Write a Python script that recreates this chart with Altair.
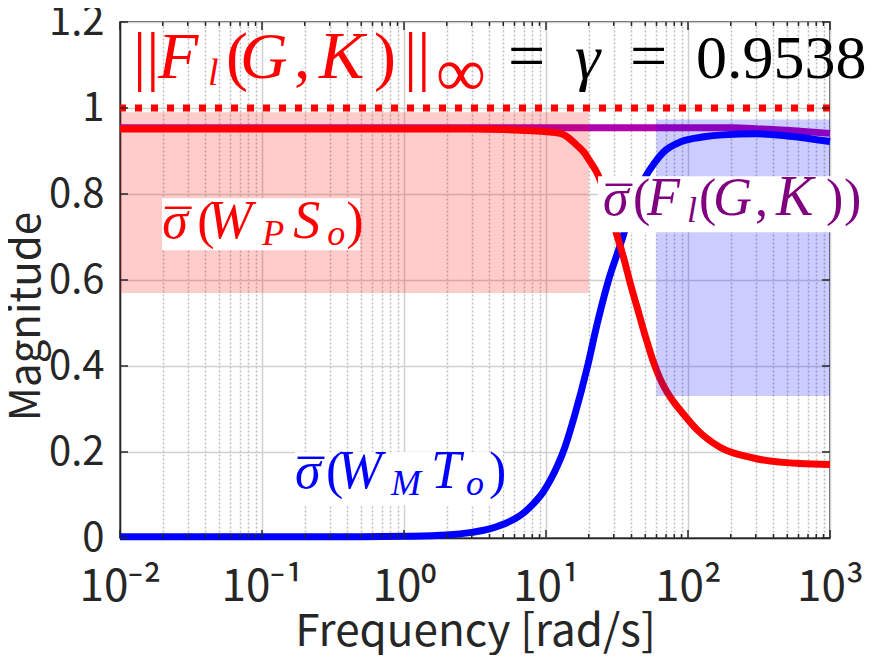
import math
import altair as alt
import pandas as pd

# ---------------- data ----------------
FREQ_WPSO = [0.01, 0.1, 1, 3, 5, 8, 10, 12.6, 14.5, 16.4, 18.5, 20.4, 23.2, 26, 28.5,
             31.5, 36, 39, 43.5, 50, 57, 63.6, 71, 80.7, 90.8, 115.6, 168, 288, 615, 1000]
MAG_WPSO = [0.951, 0.951, 0.951, 0.951, 0.950, 0.947, 0.945, 0.941, 0.930, 0.914, 0.897,
            0.876, 0.845, 0.800, 0.755, 0.706, 0.640, 0.595, 0.540, 0.470, 0.410, 0.370,
            0.340, 0.313, 0.292, 0.252, 0.211, 0.186, 0.173, 0.171]

FREQ_WMTO = [0.01, 0.1, 0.5, 1, 2, 3, 4, 5, 6, 7, 8, 8.6, 9.5, 10.7, 12, 13.6, 16, 19.5,
             23, 27.6, 34, 40, 49.8, 58, 67, 90, 130, 177, 300, 500, 1000]
MAG_WMTO = [0.003, 0.003, 0.003, 0.004, 0.007, 0.013, 0.021, 0.032, 0.044, 0.059, 0.077,
            0.088, 0.106, 0.134, 0.167, 0.2115, 0.288, 0.396, 0.500, 0.600, 0.690, 0.765,
            0.838, 0.872, 0.897, 0.922, 0.933, 0.9375, 0.940, 0.935, 0.922]

FREQ_FL = [0.01, 1, 10, 100, 200, 300, 500, 1000]
MAG_FL = [0.9538, 0.9538, 0.9538, 0.9538, 0.9538, 0.952, 0.948, 0.941]

GAMMA_BOUND = [1.0]

RED_PATCH = {"x": [0.01], "x2": [20], "y": [0.57], "y2": [0.99]}
BLUE_PATCH = {"x": [60], "x2": [1000], "y": [0.33], "y2": [0.973]}

X_DECADES = [0.01, 0.1, 1, 10, 100, 1000]
X_LABELS = ["10⁻²", "10⁻¹", "10⁰", "10¹", "10²", "10³"]
Y_TICKS = [0, 0.2, 0.4, 0.6, 0.8, 1.0, 1.2]

# label anchors (data coords: left edge, text baseline)
TITLE_AT = (0.01, 1.069)
WPSO_AT = (0.0198, 0.697)
WMTO_AT = (0.1708, 0.1162)
FL_AT = (24.0, 0.7507)
WPSO_BOX = {"x": [0.0198], "x2": [0.49], "y": [0.669], "y2": [0.790]}
WMTO_BOX = {"x": [0.1708], "x2": [4.98], "y": [0.0767], "y2": [0.1999]}
FL_BOX = {"x": [23.24], "x2": [1708], "y": [0.711], "y2": [0.841]}

# ---------------- styling ----------------
SANS = "Noto Sans CJK JP"
SERIF = "Liberation Serif"
AXC = "#262626"
RED = "#ff0000"
BLUE = "#0000ff"
PURPLE_LINE = "#b000b0"
PURPLE_TEXT = "#800080"
W, H = 710, 516

X_MINOR = [k * d for d in X_DECADES[:-1] for k in range(2, 10)]
X_ALL = sorted(X_DECADES + X_MINOR)

XS = alt.Scale(type="log", domain=[0.01, 1000], nice=False)
YS = alt.Scale(domain=[0, 1.2], nice=False, zero=False)

LOGV = "log(datum.value)/LN10"
MAJOR_TEST = f"abs({LOGV} - round({LOGV})) < 1e-6"
label_expr = ""
for d, lab in zip(X_DECADES, X_LABELS):
    n = round(math.log10(d))
    label_expr += f"({MAJOR_TEST}) && round({LOGV}) == {n} ? '{lab}' : "
label_expr += "''"

x_axis = alt.Axis(
    values=X_ALL, grid=True, ticks=False,
    gridColor={"condition": {"test": MAJOR_TEST, "value": "#d0d0d0"}, "value": "#bdbdbd"},
    gridDash={"condition": {"test": MAJOR_TEST, "value": []}, "value": [2, 2]},
    gridWidth=1.5,
    labelExpr=label_expr, labelFlush=False, labelOverlap=False,
    labelFont=SANS, labelFontSize=44, labelColor=AXC, labelPadding=27,
    domainColor=AXC, domainWidth=1.5,
    title="Frequency [rad/s]", titleFont=SANS, titleFontSize=44,
    titleFontWeight="normal", titleColor=AXC, titleX=355, titleY=107,
    titleAlign="center", titleBaseline="alphabetic",
)
y_axis = alt.Axis(
    values=Y_TICKS, grid=True, ticks=False, gridColor="#d0d0d0", gridWidth=1.5,
    format="~g", labelFont=SANS, labelFontSize=40, labelColor=AXC, labelPadding=16,
    domainColor=AXC, domainWidth=1.5,
    title="Magnitude", titleFont=SANS, titleFontSize=42, titleFontWeight="normal",
    titleColor=AXC, titleAngle=-90, titleX=-94, titleY=294,
    titleAlign="center", titleBaseline="middle",
)


def X(field):
    return alt.X(field, scale=XS, axis=x_axis)


def Y(field):
    return alt.Y(field, scale=YS, axis=y_axis)


def line(freq, mag, color):
    df = pd.DataFrame({"x": freq, "y": mag})
    return alt.Chart(df).mark_line(color=color, strokeWidth=7, interpolate="monotone").encode(
        x=X("x:Q"), y=Y("y:Q"))


def rect(spec, color, opacity):
    df = pd.DataFrame(spec)
    return alt.Chart(df).mark_rect(color=color, opacity=opacity).encode(
        x=X("x:Q"), x2="x2:Q", y=Y("y:Q"), y2="y2:Q")


def pieces(at, items, color):
    df = pd.DataFrame({"x": [at[0]], "y": [at[1]]})
    out = []
    for text, dx, dy, size, italic, *col in items:
        out.append(alt.Chart(df).mark_text(
            text=text, dx=dx, dy=dy, fontSize=size, font=SERIF,
            fontStyle="italic" if italic else "normal",
            color=col[0] if col else color, align="left", baseline="alphabetic",
        ).encode(x=X("x:Q"), y=Y("y:Q")))
    return out


def xticks(values, length):
    df = pd.DataFrame({"x": values})
    base = alt.Chart(df).mark_rule(color=AXC, strokeWidth=1.5)
    return [
        base.encode(x=X("x:Q"), y=alt.value(H), y2=alt.value(H - length)),
        base.encode(x=X("x:Q"), y=alt.value(0), y2=alt.value(length)),
    ]


def yticks(values, length):
    df = pd.DataFrame({"y": values})
    base = alt.Chart(df).mark_rule(color=AXC, strokeWidth=1.5)
    return [
        base.encode(y=Y("y:Q"), x=alt.value(0), x2=alt.value(length)),
        base.encode(y=Y("y:Q"), x=alt.value(W), x2=alt.value(W - length)),
    ]


K = "#000000"
title_items = [
    ("||", 13, 0, 66, False), ("F", 38, 0, 66, True), ("l", 88, 7, 38, True),
    ("(", 106, 0, 66, False), ("G", 120, 0, 66, True), (",", 174, 0, 66, False),
    ("K", 199, 0, 68, True), (")", 254, 0, 66, False), ("||", 284, 0, 66, False),
    ("∞", 316, 18, 70, False),
    ("=", 388, 0, 66, False, K), ("γ", 455, 0, 64, True, K),
    ("=", 510, 0, 66, False, K), ("0.9538", 576, 0, 62, False, K),
]
wpso_items = [
    ("σ", 0, 0, 52, True), ("¯", 3, 9, 52, False), ("(", 35, 0, 52, False),
    ("W", 45, 0, 54, True), ("P", 100, 7, 36, True), ("S", 131, 0, 54, True),
    ("o", 165, 7, 36, True), (")", 184, 0, 52, False),
]
wmto_items = [
    ("σ", 0, 0, 52, True), ("¯", 3, 9, 52, False), ("(", 31, 0, 52, False),
    ("W", 42, 0, 54, True), ("M", 96, 7, 36, True), ("T", 136, 0, 54, True),
    ("o", 171, 7, 36, True), (")", 194, 0, 52, False),
]
fl_items = [
    ("σ", 3, 0, 52, True), ("¯", 6, 9, 52, False), ("(", 33, 0, 52, False),
    ("F", 47, 0, 54, True), ("l", 87, 7, 36, True), ("(", 99, 0, 52, False),
    ("G", 113, 0, 54, True), (",", 155, 0, 52, False), ("K", 176, 0, 56, True),
    (")", 226, 0, 52, False), (")", 244, 0, 52, False),
]

gamma_rule = alt.Chart(pd.DataFrame({"y": GAMMA_BOUND})).mark_rule(
    color=RED, strokeWidth=7, strokeDash=[7, 9]
).encode(y=Y("y:Q"))

layers = [
    line(FREQ_FL, MAG_FL, PURPLE_LINE),
    line(FREQ_WMTO, MAG_WMTO, BLUE),
    line(FREQ_WPSO, MAG_WPSO, RED),
    gamma_rule,
    rect(RED_PATCH, RED, 0.2),
    rect(BLUE_PATCH, BLUE, 0.2),
]
layers += xticks(X_DECADES, 8) + xticks(X_MINOR, 4) + yticks(Y_TICKS, 8)
layers += [
    rect(WPSO_BOX, "#ffffff", 1),
    rect(WMTO_BOX, "#ffffff", 1),
    rect(FL_BOX, "#ffffff", 1),
]
layers += pieces(TITLE_AT, title_items, RED)
layers += pieces(WPSO_AT, wpso_items, RED)
layers += pieces(WMTO_AT, wmto_items, BLUE)
layers += pieces(FL_AT, fl_items, PURPLE_TEXT)

chart = alt.layer(*layers).properties(
    width=W, height=H,
    autosize=alt.AutoSizeParams(type="none"),
    padding={"left": 112, "top": 14, "right": 40, "bottom": 117},
).configure_view(stroke=AXC, strokeWidth=1.5)

chart.save("out.html", embed_options={"renderer": "svg", "actions": False})
